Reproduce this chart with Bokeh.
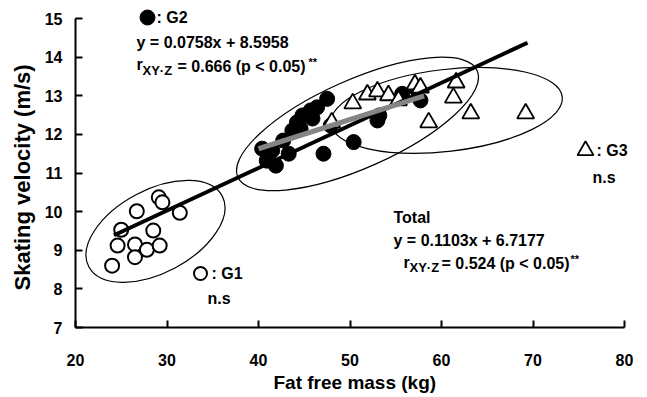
from bokeh.plotting import figure
from bokeh.models import Label, Range1d, Title
from bokeh.embed import file_html
from bokeh.resources import INLINE
import numpy as np

# ---------------- data ----------------
# G1 : open circles
g1_ffm = [24.0, 24.6, 25.0, 26.7, 26.5, 26.5, 27.8, 28.5, 29.2, 29.1, 29.5, 31.4]
g1_vel = [8.60, 9.12, 9.53, 10.01, 9.15, 8.82, 9.01, 9.51, 9.12, 10.37, 10.24, 9.97]

# G2 : filled circles
g2_ffm = [40.4, 40.9, 41.9, 43.3, 43.7, 44.2, 44.8, 45.7, 46.4, 47.5, 47.1, 47.9,
          50.4, 53.0, 53.2, 55.7, 57.2, 57.7, 44.6, 45.9, 41.5, 42.7]
g2_vel = [11.63, 11.32, 11.19, 11.50, 12.10, 12.31, 12.49, 12.62, 12.70, 12.92, 11.50, 12.23,
          11.80, 12.36, 12.49, 13.05, 13.19, 12.88, 12.15, 12.41, 11.58, 11.84]

# G3 : open triangles
g3_ffm = [48.0, 50.3, 51.9, 53.0, 54.2, 55.3, 57.1, 57.7, 58.6, 61.3, 61.6, 63.2, 69.2]
g3_vel = [12.31, 12.80, 13.03, 13.11, 13.01, 12.88, 13.29, 13.21, 12.31, 12.95, 13.34, 12.54, 12.54]

# regression lines (coefficients printed on the chart)
total_slope, total_icpt = 0.1103, 6.7177
total_range = [24.2, 69.4]
g2_slope, g2_icpt = 0.0758, 8.5958
g2_range = [40.0, 58.1]

x_ticks = [20, 30, 40, 50, 60, 70, 80]
y_ticks = [7, 8, 9, 10, 11, 12, 13, 14, 15]
x_title = "Fat free mass (kg)"
y_title = "Skating velocity (m/s)"

# ---------------- figure ----------------
FONT = "Liberation Sans"
PX_X = 9.15      # pixels per kg
PX_Y = 38.625    # pixels per m/s
W, H = 646, 396
LEFT, BOTTOM_Y = 75, 327   # page pixel of (20, 7)

p = figure(width=W, height=H,
           x_range=Range1d(20, 20 + (W - LEFT) / PX_X),
           y_range=Range1d(7, 7 + BOTTOM_Y / PX_Y),
           output_backend="svg", toolbar_location=None,
           min_border_left=LEFT, min_border_right=0, min_border_top=0,
           min_border_bottom=H - BOTTOM_Y)
p.outline_line_color = None
p.grid.visible = False
p.background_fill_color = "white"
p.border_fill_color = "white"

p.xaxis.ticker = x_ticks
p.yaxis.ticker = y_ticks
p.xaxis.bounds = (20, 80)
p.yaxis.bounds = (7, 15)
for ax in (p.xaxis[0], p.yaxis[0]):
    ax.axis_line_width = 2
    ax.axis_line_color = "black"
    ax.major_tick_line_width = 2
    ax.major_tick_line_color = "black"
    ax.major_tick_in = 7
    ax.major_tick_out = 0
    ax.minor_tick_line_color = None
    ax.major_label_text_font = FONT
    ax.major_label_text_font_style = "bold"
    ax.major_label_text_font_size = "16px"
    ax.major_label_text_color = "black"
p.xaxis.major_label_standoff = 26
p.yaxis.major_label_standoff = 13

# axis titles as side-panel titles, anchored at their start so they sit where the reference has them
p.add_layout(Title(text=y_title, align="left", offset=37, standoff=14,
                   text_font=FONT, text_font_style="bold", text_font_size="22px",
                   text_color="black"), "left")
p.add_layout(Title(text=x_title, align="left", offset=198, standoff=2,
                   text_font=FONT, text_font_style="bold", text_font_size="19px",
                   text_color="black"), "below")

# ---------------- ellipses (group outlines) ----------------
ell_x = [28.74, 50.82, 60.55]
ell_y = [9.49, 12.27, 12.62]
ell_w = [151, 262, 233]
ell_h = [83, 88, 82]
ell_a = [np.radians(28), np.radians(24), np.radians(6.7)]
p.ellipse(x=ell_x, y=ell_y, width=ell_w, height=ell_h, angle=ell_a,
          width_units="screen", height_units="screen",
          fill_color=None, line_color="black", line_width=1.2)

# ---------------- points ----------------
p.scatter(g2_ffm, g2_vel, marker="circle", size=15, fill_color="black", line_color="black")
p.scatter(g3_ffm, g3_vel, marker="triangle", size=17, fill_color="white",
          line_color="black", line_width=1.8)
p.scatter(g1_ffm, g1_vel, marker="circle", size=14, fill_color="white",
          line_color="black", line_width=2)

# ---------------- regression lines ----------------
tx = np.array(total_range)
p.line(tx, total_slope * tx + total_icpt, line_color="black", line_width=4)
gx = np.array(g2_range)
p.line(gx, g2_slope * gx + g2_icpt, line_color="#858585", line_width=5)

# ---------------- annotations ----------------
def d(xp, yp):
    return 20 + (xp - LEFT) / PX_X, 7 + (BOTTOM_Y - yp) / PX_Y


def lab(text, xp, yp, size="16px", font=FONT, align="left"):
    x, y = d(xp, yp)
    p.add_layout(Label(x=x, y=y, text=text, text_font=font, text_font_style="bold",
                       text_font_size=size, text_color="black", text_baseline="middle",
                       text_align=align))


# G2 legend
mx, my = d(147, 17)
p.scatter([mx], [my], marker="circle", size=15, fill_color="black", line_color="black")
lab(": G2", 156, 17)
lab("y = 0.0758x + 8.5958", 136, 41.5)
lab("r", 136, 64)
lab("XY\u00b7Z", 142, 70, size="13px")
lab("= 0.666 (p < 0.05)", 177, 66)
lab("**", 308, 61, size="11px")

# G3 legend
sx, sy = d(585, 150)
p.scatter([sx], [sy], marker="triangle", size=16, fill_color="white", line_color="black", line_width=1.8)
lab(": G3", 596, 150)
lab("n.s", 592, 177)

# G1 legend
cx, cy = d(200, 273)
p.scatter([cx], [cy], marker="circle", size=13, fill_color="white", line_color="black", line_width=2)
lab(": G1", 211, 273)
lab("n.s", 207, 298)

# Total
lab("Total", 393, 216.5)
lab("y = 0.1103x + 6.7177", 393, 240)
lab("r", 403, 262)
lab("XY\u00b7Z", 409, 267, size="13px")
lab("= 0.524 (p < 0.05)", 441, 263)
lab("**", 570, 258, size="11px")

open("out.html", "w").write(file_html(p, INLINE))
